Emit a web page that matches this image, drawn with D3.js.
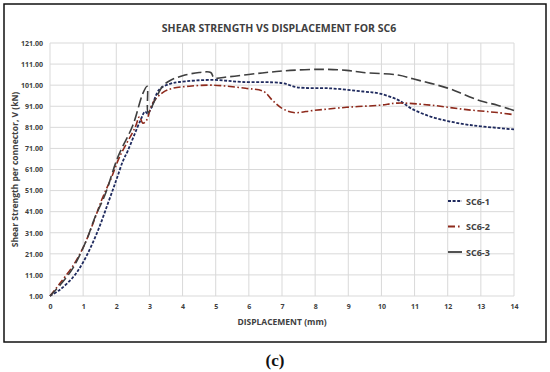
<!DOCTYPE html>
<html>
<head>
<meta charset="utf-8">
<script src="https://cdn.jsdelivr.net/npm/d3@7"></script>
<style>
  body { margin: 0; background: #fff; }
  svg text { font-family: "Open Sans", "DejaVu Sans", sans-serif; }
</style>
</head>
<body>
<div id="chart"></div>
<script>
// data: [displacement mm, shear kN]
const sc61 = [[0,1],[0.3,4],[0.7,10],[1.0,17],[1.42,31],[1.75,45],[2.0,56],[2.2,65],[2.35,70],[2.72,84],[2.87,88.5],[2.95,87.5],[3.05,90],[3.3,99],[3.6,101.5],[3.9,102.5],[4.9,103.5],[5.8,102.5],[7.0,102],[7.45,100],[8.45,99.5],[9.45,98],[9.95,97],[10.5,94],[10.95,89.5],[11.5,86],[12.0,84],[12.5,82.5],[13.0,81.5],[14.0,80]];
const sc62 = [[0,1],[0.3,7],[0.7,15.5],[1.0,24],[1.3,35.5],[1.57,47],[1.85,57],[2.1,67],[2.57,81],[2.7,86],[2.8,83],[2.9,84],[3.1,92.5],[3.4,97.5],[3.7,99.5],[4.2,100.5],[4.9,101],[5.9,99.5],[6.45,98],[6.7,94],[7.0,90],[7.35,88],[7.95,89],[8.95,90.5],[9.95,91.5],[10.5,92.5],[11.5,91.5],[12.5,89.5],[13.5,88],[14.0,87]];
const sc63 = [[0,1],[0.35,7],[0.7,14.5],[1.1,27.5],[1.36,38.5],[1.66,49],[2.05,67],[2.5,82],[2.8,97],[2.93,100.5],[2.96,88],[3.2,95],[3.4,100.5],[3.6,103],[4.0,105.5],[4.5,107],[4.85,107],[4.95,104.5],[5.4,105],[6.4,106.8],[7.25,108],[8.25,108.5],[8.95,108],[9.45,107],[10.5,105.8],[10.95,104],[12.0,99.6],[12.5,96.5],[13.0,93.5],[13.5,91.5],[14.0,89]];

const seriesNames = ["SC6-1", "SC6-2", "SC6-3"];
const seriesData = [sc61, sc62, sc63];
const seriesColors = ["#1f2a5e", "#8e2a1c", "#3f3f3f"];
const seriesDash = ["3,1.6", "7,2.5,1.6,2.5", "10,4"];

const xTicks = d3.range(0, 15);
const yTicks = d3.range(1, 122, 10);

const W = 550, H = 372;
const margin = { top: 43, right: 36, bottom: 76, left: 50 };
const width = W - margin.left - margin.right;
const height = H - margin.top - margin.bottom;

const svg = d3.select("#chart").append("svg")
    .attr("width", W)
    .attr("height", H);

// outer frame
svg.append("rect")
    .attr("x", 4).attr("y", 4)
    .attr("width", 542).attr("height", 338)
    .attr("fill", "none")
    .attr("stroke", "#111")
    .attr("stroke-width", 1.5);

const g = svg.append("g")
    .attr("transform", "translate(" + margin.left + "," + margin.top + ")");

const x = d3.scaleLinear().domain([0, 14]).range([0, width]);
const y = d3.scaleLinear().domain([1, 121]).range([height, 0]);

// grid
g.append("g").selectAll("line")
    .data(xTicks)
    .enter().append("line")
    .attr("x1", d => x(d)).attr("x2", d => x(d))
    .attr("y1", 0).attr("y2", height)
    .attr("stroke", "#d9d9d9").attr("stroke-width", 1);
g.append("g").selectAll("line")
    .data(yTicks)
    .enter().append("line")
    .attr("x1", 0).attr("x2", width)
    .attr("y1", d => y(d)).attr("y2", d => y(d))
    .attr("stroke", "#d9d9d9").attr("stroke-width", 1);

// axes
const xAxis = g.append("g")
    .attr("transform", "translate(0," + height + ")")
    .call(d3.axisBottom(x).tickValues(xTicks).tickSize(0).tickPadding(8));
xAxis.select(".domain").remove();
xAxis.selectAll("text")
    .attr("fill", "#404040")
    .style("font-size", "7px")
    .style("font-weight", "bold");

const yAxis = g.append("g")
    .call(d3.axisLeft(y).tickValues(yTicks).tickFormat(d3.format(".2f")).tickSize(0).tickPadding(7));
yAxis.select(".domain").remove();
yAxis.selectAll("text")
    .attr("fill", "#404040")
    .style("font-size", "7px")
    .style("font-weight", "bold");

// lines
const line = d3.line()
    .x(d => x(d[0]))
    .y(d => y(d[1]))
    .curve(d3.curveCatmullRom.alpha(0.5));

seriesData.forEach((s, i) => {
    g.append("path")
        .datum(s)
        .attr("fill", "none")
        .attr("stroke", seriesColors[i])
        .attr("stroke-width", i === 0 ? 1.8 : 1.6)
        .attr("stroke-dasharray", seriesDash[i])
        .attr("d", line);
});

// titles
svg.append("text")
    .attr("x", 279).attr("y", 32)
    .attr("text-anchor", "middle")
    .attr("fill", "#404040")
    .style("font-size", "10.5px")
    .style("font-weight", "bold")
    .text("SHEAR STRENGTH VS DISPLACEMENT FOR SC6");

svg.append("text")
    .attr("x", margin.left + width / 2).attr("y", 325)
    .attr("text-anchor", "middle")
    .attr("fill", "#404040")
    .style("font-size", "8.5px")
    .style("font-weight", "bold")
    .text("DISPLACEMENT (mm)");

svg.append("text")
    .attr("transform", "translate(18," + (margin.top + height / 2) + ")rotate(-90)")
    .attr("text-anchor", "middle")
    .attr("fill", "#404040")
    .style("font-size", "8.5px")
    .style("font-weight", "bold")
    .text("Shear Strength per connector, V (kN)");

// legend
const legend = svg.append("g")
    .attr("transform", "translate(448,201)");
const items = legend.selectAll("g")
    .data(seriesNames)
    .enter().append("g")
    .attr("transform", (d, i) => "translate(0," + (i * 25.5) + ")");
items.append("line")
    .attr("x1", 0).attr("x2", 14)
    .attr("stroke", (d, i) => seriesColors[i])
    .attr("stroke-width", 1.8)
    .attr("stroke-dasharray", (d, i) => i === 0 ? "3,1.6" : (i === 1 ? "7,3,1.6,3" : null));
items.append("text")
    .attr("x", 18).attr("y", 3.5)
    .attr("fill", "#404040")
    .style("font-size", "9px")
    .style("font-weight", "bold")
    .text(d => d);

// caption
svg.append("text")
    .attr("x", 275).attr("y", 366)
    .attr("text-anchor", "middle")
    .attr("fill", "#111")
    .style("font-family", "'Liberation Serif', 'DejaVu Serif', serif")
    .style("font-size", "17px")
    .style("font-weight", "bold")
    .text("(c)");
</script>
</body>
</html>
